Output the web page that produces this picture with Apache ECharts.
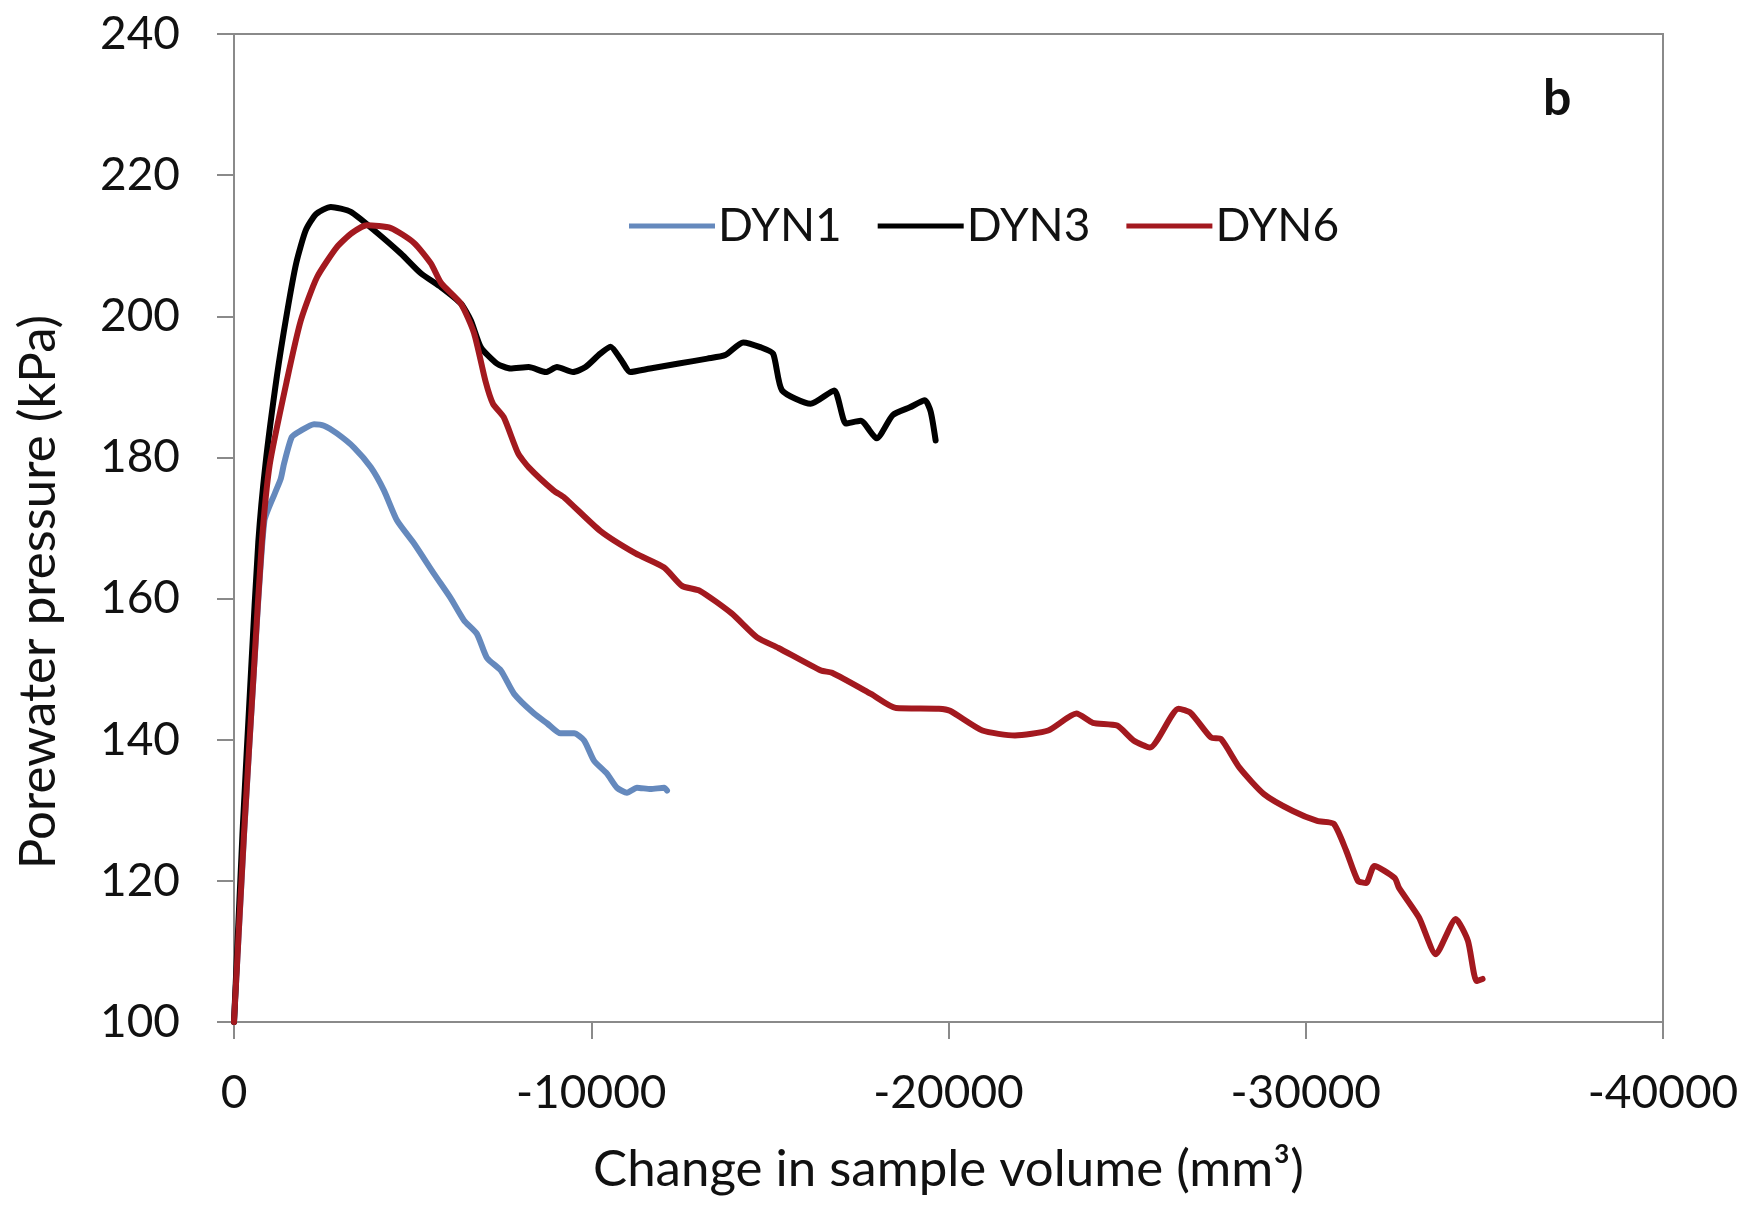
<!DOCTYPE html>
<html>
<head>
<meta charset="utf-8">
<script src="https://cdn.jsdelivr.net/npm/echarts@6/dist/echarts.min.js"></script>
<style>
  html, body { margin: 0; padding: 0; background: #ffffff; }
  #chart { width: 1754px; height: 1209px; }
</style>
</head>
<body>
<div id="chart"></div>
<script>
// Porewater pressure against change in sample volume, three dynamic tests
const seriesNames = ['DYN1', 'DYN3', 'DYN6'];
const seriesColors = ['#6589bd', '#000000', '#a3191f'];

const dyn1Volume = [0, -280, -560, -850, -1150, -1310, -1400, -1620, -1870, -2240, -2520, -2880, -3360, -3830, -4200, -4560, -5040, -5600, -6060, -6440, -6800, -7080, -7470, -7840, -8400, -8770, -9140, -9520, -9800, -10080, -10440, -10720, -11000, -11280, -11660, -12040, -12120];
const dyn1Pressure = [100, 126.5, 150, 171, 175, 177, 179.1, 182.9, 183.8, 184.7, 184.5, 183.4, 181.4, 178.6, 175.3, 171.1, 167.8, 163.5, 160.1, 156.9, 155.0, 151.6, 149.8, 146.5, 143.7, 142.3, 140.9, 140.9, 139.9, 137.0, 135.2, 133.2, 132.5, 133.2, 133.0, 133.2, 132.8];

const dyn3Volume = [0, -240, -480, -680, -880, -1200, -1480, -1740, -2010, -2300, -2710, -3270, -3920, -4670, -5230, -5800, -6350, -6630, -6910, -7360, -7740, -8250, -8730, -9040, -9490, -9840, -10250, -10540, -10840, -11090, -11650, -12450, -13250, -13750, -14250, -14750, -15090, -15340, -16140, -16800, -17130, -17540, -17990, -18440, -18920, -19340, -19500, -19640];
const dyn3Pressure = [100, 127, 150, 168, 179, 191.5, 200.4, 207.5, 212.2, 214.5, 215.5, 214.8, 212.2, 208.9, 206.1, 204.1, 201.8, 199.4, 195.6, 193.3, 192.6, 192.8, 192.1, 192.8, 192.1, 192.8, 194.7, 195.7, 193.8, 192.1, 192.6, 193.3, 194.0, 194.5, 196.3, 195.6, 194.7, 189.5, 187.6, 189.5, 184.8, 185.2, 182.7, 186.0, 187.1, 188.1, 186.5, 182.4];

const dyn6Volume = [0, -280, -560, -780, -1000, -1480, -1870, -2320, -2880, -3300, -3720, -4390, -5040, -5510, -5800, -6350, -6720, -7040, -7250, -7550, -7950, -8250, -8950, -9250, -10250, -11240, -12040, -12540, -13040, -13930, -14640, -15240, -16430, -16740, -17830, -18530, -19730, -20040, -20950, -21860, -22790, -23580, -24040, -24720, -25180, -25640, -26440, -26780, -27350, -27630, -28150, -28830, -29640, -30320, -30780, -31130, -31460, -31690, -31920, -32490, -32610, -33170, -33640, -34200, -34540, -34780, -34950];
const dyn6Pressure = [100, 126.7, 150.2, 168, 179, 190.9, 199.4, 205.5, 209.8, 211.8, 212.9, 212.5, 210.4, 207.5, 204.7, 201.8, 197.6, 190.8, 187.6, 185.7, 180.6, 178.6, 175.3, 174.3, 169.6, 166.4, 164.4, 161.8, 161.1, 157.9, 154.5, 153.0, 149.8, 149.5, 146.5, 144.5, 144.4, 144.1, 141.3, 140.6, 141.3, 143.7, 142.4, 142.0, 139.9, 138.9, 144.4, 143.8, 140.3, 140.1, 136.0, 132.3, 129.9, 128.5, 128.1, 124.3, 120.0, 119.7, 122.1, 120.4, 119.0, 114.8, 109.6, 114.6, 111.5, 105.8, 106.1];

const xTickValues = [0, -10000, -20000, -30000, -40000];
const yTickValues = [100, 120, 140, 160, 180, 200, 220, 240];

const panelLetter = 'b';
const xTitle = 'Change in sample volume (mm\u00B3)';
const yTitle = 'Porewater pressure (kPa)';

function pairs(xs, ys) {
  return xs.map((x, i) => [x, ys[i]]);
}

const fontFamily = 'Lato, "Open Sans", sans-serif';
const axisGray = '#8a8a8a';

const chart = echarts.init(document.getElementById('chart'), null, { renderer: 'canvas' });

const volumes = [dyn1Volume, dyn3Volume, dyn6Volume];
const pressures = [dyn1Pressure, dyn3Pressure, dyn6Pressure];

chart.setOption({
  backgroundColor: '#ffffff',
  animation: false,
  title: {
    text: panelLetter,
    left: 1538,
    top: 69,
    textStyle: { fontFamily: fontFamily, fontSize: 50, fontWeight: 'bold', color: '#111111' }
  },
  legend: {
    data: seriesNames,
    left: 624,
    top: 198,
    icon: 'rect',
    itemWidth: 86,
    itemHeight: 5,
    itemGap: 36,
    textStyle: { fontFamily: fontFamily, fontSize: 46, color: '#111111', padding: [0, 0, 0, -2] }
  },
  grid: {
    left: 234,
    right: 91,
    top: 34,
    bottom: 187,
    show: true,
    borderColor: axisGray,
    borderWidth: 2,
    backgroundColor: 'transparent'
  },
  xAxis: {
    type: 'value',
    inverse: true,
    min: Math.min(...xTickValues),
    max: Math.max(...xTickValues),
    interval: 10000,
    splitLine: { show: false },
    axisLine: { lineStyle: { color: axisGray, width: 2 } },
    axisTick: { show: true, length: 17, lineStyle: { color: axisGray, width: 2 } },
    axisLabel: {
      margin: 48,
      fontFamily: fontFamily,
      fontSize: 46,
      color: '#111111',
      formatter: v => String(v)
    },
    name: xTitle,
    nameLocation: 'middle',
    nameGap: 122,
    nameTextStyle: { fontFamily: fontFamily, fontSize: 51, color: '#111111' }
  },
  yAxis: {
    type: 'value',
    min: Math.min(...yTickValues),
    max: Math.max(...yTickValues),
    interval: 20,
    splitLine: { show: false },
    axisLine: { lineStyle: { color: axisGray, width: 2 } },
    axisTick: { show: true, length: 17, lineStyle: { color: axisGray, width: 2 } },
    axisLabel: {
      margin: 54,
      fontFamily: fontFamily,
      fontSize: 46,
      color: '#111111'
    },
    name: yTitle,
    nameLocation: 'middle',
    nameGap: 170,
    nameTextStyle: { fontFamily: fontFamily, fontSize: 51, color: '#111111', padding: [0, 128, 0, 0] }
  },
  series: seriesNames.map((name, i) => ({
    name: name,
    type: 'line',
    data: pairs(volumes[i], pressures[i]),
    showSymbol: false,
    symbol: 'none',
    smooth: 0.2,
    color: seriesColors[i],
    lineStyle: { width: 6, color: seriesColors[i], cap: 'round', join: 'round' }
  }))
});
</script>
</body>
</html>
